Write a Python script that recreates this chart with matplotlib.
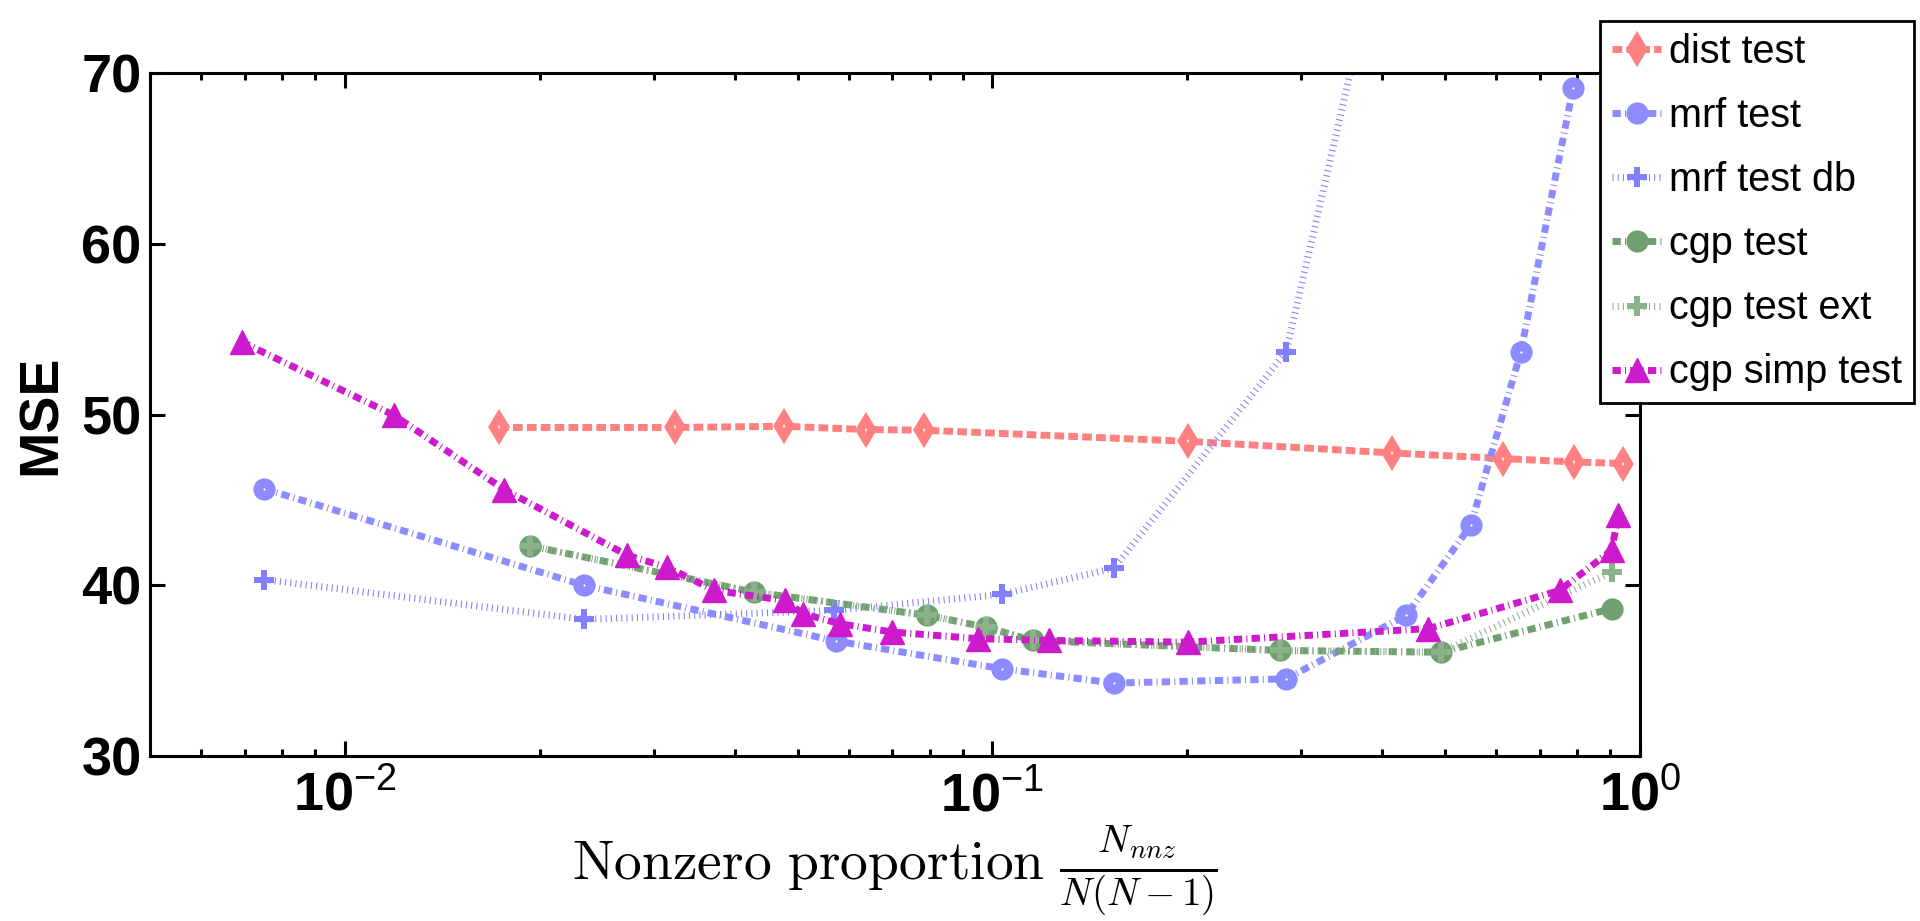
import matplotlib
matplotlib.use("Agg")
import matplotlib.pyplot as plt
from matplotlib.ticker import NullFormatter

plt.rcParams['font.family'] = ['Liberation Sans', 'DejaVu Sans']
plt.rcParams['mathtext.fontset'] = 'custom'
plt.rcParams['mathtext.rm'] = 'Liberation Sans'
plt.rcParams['mathtext.bf'] = 'Liberation Sans:bold'

# values
dist_x = [0.0173, 0.0323, 0.0477, 0.0637, 0.0785, 0.2002, 0.4138, 0.615, 0.791, 0.940]
dist_y = [49.24, 49.24, 49.31, 49.12, 49.08, 48.43, 47.75, 47.42, 47.22, 47.13]

mrf_x = [0.00751, 0.02339, 0.0574, 0.1035, 0.154, 0.2842, 0.4355, 0.5478, 0.6546, 0.788]
mrf_y = [45.64, 40.0, 36.73, 35.11, 34.27, 34.52, 38.24, 43.51, 53.67, 69.1]

mrfdb_x = [0.00751, 0.02339, 0.057, 0.1035, 0.154, 0.2842, 0.4355]
mrfdb_y = [40.33, 38.0, 38.53, 39.47, 41.0, 53.67, 84.3]

cgp_x = [0.01934, 0.04276, 0.0793, 0.0976, 0.1153, 0.278, 0.4926, 0.904]
cgp_y = [42.3, 39.6, 38.24, 37.55, 36.77, 36.18, 36.08, 38.63]

cgpext_x = [0.01934, 0.04276, 0.0793, 0.0976, 0.1153, 0.278, 0.4926, 0.904]
cgpext_y = [42.3, 39.6, 38.24, 37.55, 36.77, 36.18, 36.08, 40.77]

simp_x = [0.00693, 0.0119, 0.01763, 0.0273, 0.0314, 0.0372, 0.0478, 0.051, 0.0581,
          0.0700, 0.0950, 0.1224, 0.2002, 0.4713, 0.752, 0.904, 0.926]
simp_y = [54.25, 49.96, 45.6, 41.75, 41.07, 39.7, 39.11, 38.33, 37.75,
          37.26, 36.87, 36.77, 36.67, 37.46, 39.7, 42.05, 44.1]

xticks = [0.01, 0.1, 1]
xticklabels = [r'$\mathbf{10}^{\mathrm{-2}}$', r'$\mathbf{10}^{\mathrm{-1}}$', r'$\mathbf{10}^{\mathrm{0}}$']
yticks = [30, 40, 50, 60, 70]

dashed = (0, (1.4, 0.6))
dashdot = (0, (1.2, 0.6, 0.15, 0.6))
dotted = (0, (0.15, 0.6))
lw = 5

fig = plt.figure(figsize=(19.2, 9.21), dpi=100)
ax = fig.add_axes([0.078125, 0.17915, 0.776042, 0.74159])

ax.plot(dist_x, dist_y, color='#FF8080', ls=dashed, lw=lw, marker='d', ms=10,
        mfc='white', mew=6, label='dist test')
ax.plot(mrf_x, mrf_y, color='#8C8CFF', ls=dashdot, lw=lw, marker='o', ms=9,
        mfc='white', mew=7, label='mrf test')
ax.plot(mrfdb_x, mrfdb_y, color='#8080FF', ls=dotted, lw=lw, marker='P', ms=14,
        mew=0, label='mrf test db')
ax.plot(cgp_x, cgp_y, color='#70A070', ls=dashdot, lw=lw, marker='o', ms=16,
        mew=0, label='cgp test')
ax.plot(cgpext_x, cgpext_y, color='#8CB28C', ls=dotted, lw=lw, marker='P', ms=14,
        mew=0, label='cgp test ext')
ax.plot(simp_x, simp_y, color='#CC1ACC', ls=dashdot, lw=lw, marker='^', ms=17,
        mew=1, label='cgp simp test')

ax.set_xscale('log')
ax.set_xlim(0.005, 1)
ax.set_ylim(30, 70)
ax.set_xticks(xticks)
ax.set_xticklabels(xticklabels)
ax.xaxis.set_minor_formatter(NullFormatter())
ax.set_yticks(yticks)

for s in ax.spines.values():
    s.set_linewidth(2.2)
ax.tick_params(which='both', direction='in', top=True, right=True, width=2.2)
ax.tick_params(which='major', length=10.5)
ax.tick_params(which='minor', length=5)
ax.tick_params(axis='y', labelsize=39, pad=6)
ax.tick_params(axis='x', labelsize=39, pad=10)
for t in ax.get_yticklabels():
    t.set_fontweight('bold')

ax.set_ylabel('MSE', fontsize=40, fontweight='bold', labelpad=10)
ax.set_xlabel(r'$\mathrm{Nonzero\ proportion}\ \frac{N_{nnz}}{N(N-1)}$',
              fontsize=40, math_fontfamily='cm', labelpad=0)

leg = ax.legend(loc='upper right', bbox_to_anchor=(0.9969, 0.9772),
                bbox_transform=fig.transFigure, borderaxespad=0,
                fontsize=28.5, handlelength=1.25, handletextpad=0.2,
                borderpad=0.3, labelspacing=0.66,
                fancybox=False, framealpha=1, edgecolor='black')
leg.get_frame().set_linewidth(2)
leg.set_zorder(10)
for h in leg.legend_handles:
    h.set_markerfacecolor(h.get_color())

fig.savefig('out.png', dpi=100)
